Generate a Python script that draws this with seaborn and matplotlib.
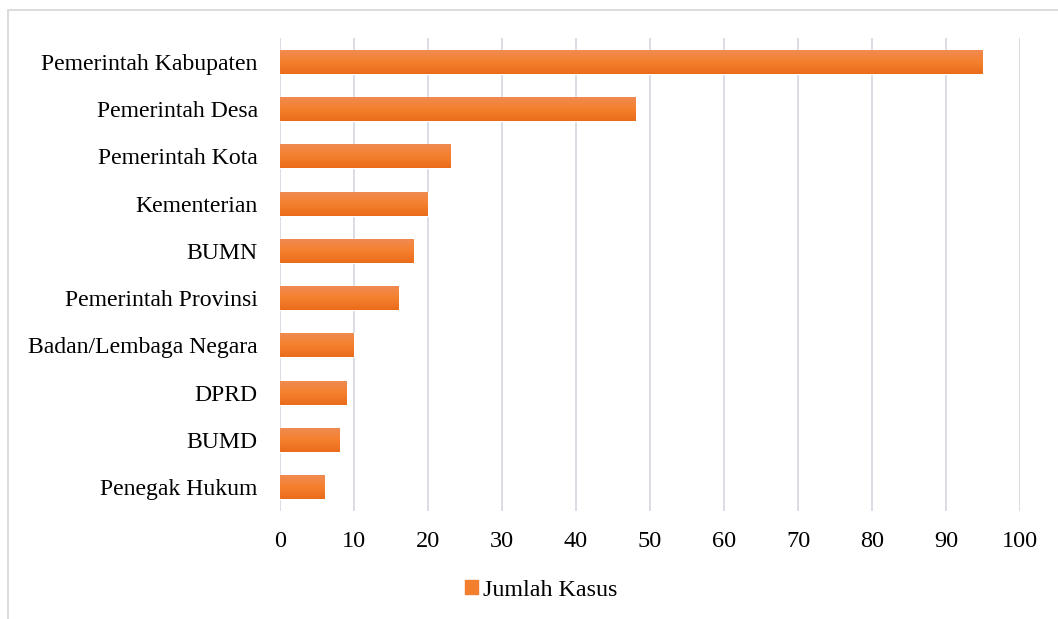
import matplotlib
matplotlib.use("Agg")
import matplotlib.pyplot as plt
import seaborn as sns
import pandas as pd
import numpy as np
from matplotlib.colors import LinearSegmentedColormap
from matplotlib.patches import Rectangle

categories = ["Pemerintah Kabupaten", "Pemerintah Desa", "Pemerintah Kota", "Kementerian",
              "BUMN", "Pemerintah Provinsi", "Badan/Lembaga Negara", "DPRD", "BUMD", "Penegak Hukum"]
values = [95, 48, 23, 20, 18, 16, 10, 9, 8, 6]
series_name = "Jumlah Kasus"
x_ticks = [0, 10, 20, 30, 40, 50, 60, 70, 80, 90, 100]

df = pd.DataFrame({"Instansi": categories, series_name: values})

sns.set_theme(style="white")
plt.rcParams['font.family'] = ['Liberation Serif', 'DejaVu Serif']
plt.rcParams['text.color'] = 'black'

W, H = 1058, 619
fig = plt.figure(figsize=(W / 100, H / 100), dpi=100)
ax = fig.add_axes([280 / W, 1 - 510.6 / H, 740 / W, (510.6 - 38.4) / H])

sns.barplot(data=df, y="Instansi", x=series_name, orient="h", color="#F37E2E",
            width=0.51, ax=ax, label=series_name, zorder=3, saturation=1)

ax.set_xlim(0, 100)
ax.set_xticks(x_ticks)
ax.set_xlabel("")
ax.set_ylabel("")
ax.grid(axis="x", color="#D9DEE4", linewidth=1.4, zorder=0)
ax.grid(axis="y", visible=False)
for s in ax.spines.values():
    s.set_visible(False)
ax.tick_params(axis="both", length=0, colors="black")
ax.tick_params(axis="x", pad=15, labelsize=17.5)
ax.tick_params(axis="y", pad=16, labelsize=17.1)

# gradient fill clipped to each bar
cmap = LinearSegmentedColormap.from_list("g", ["#F08B55", "#F5812E", "#E96C1B"])
grad = np.linspace(0, 1, 64).reshape(-1, 1)
for p in list(ax.patches):
    x0, y0 = p.get_x(), p.get_y()
    w, h = p.get_width(), p.get_height()
    im = ax.imshow(grad, cmap=cmap, aspect="auto", extent=[x0, x0 + w, y0 + h, y0],
                   origin="upper", zorder=4, interpolation="bilinear")
    im.set_clip_path(p)
ax.set_xlim(0, 100)
ax.set_ylim(len(categories) - 0.5, -0.5)

leg = fig.legend(handles=[Rectangle((0, 0), 1, 1, color="#F37E2E")], labels=[series_name],
                 loc="center", bbox_to_anchor=(541 / W, 1 - 590 / H), frameon=False,
                 fontsize=17.3, handlelength=0.55, handleheight=0.55, handletextpad=0.2,
                 labelcolor="black")
if ax.get_legend():
    ax.get_legend().remove()

border = Rectangle((8 / W, -0.2), 1.2, 1.2 - 10 / H, transform=fig.transFigure, fill=False,
                   edgecolor="#D9D9D9", linewidth=1.3, zorder=0)
fig.patches.append(border)

fig.savefig("out.png", dpi=100)
